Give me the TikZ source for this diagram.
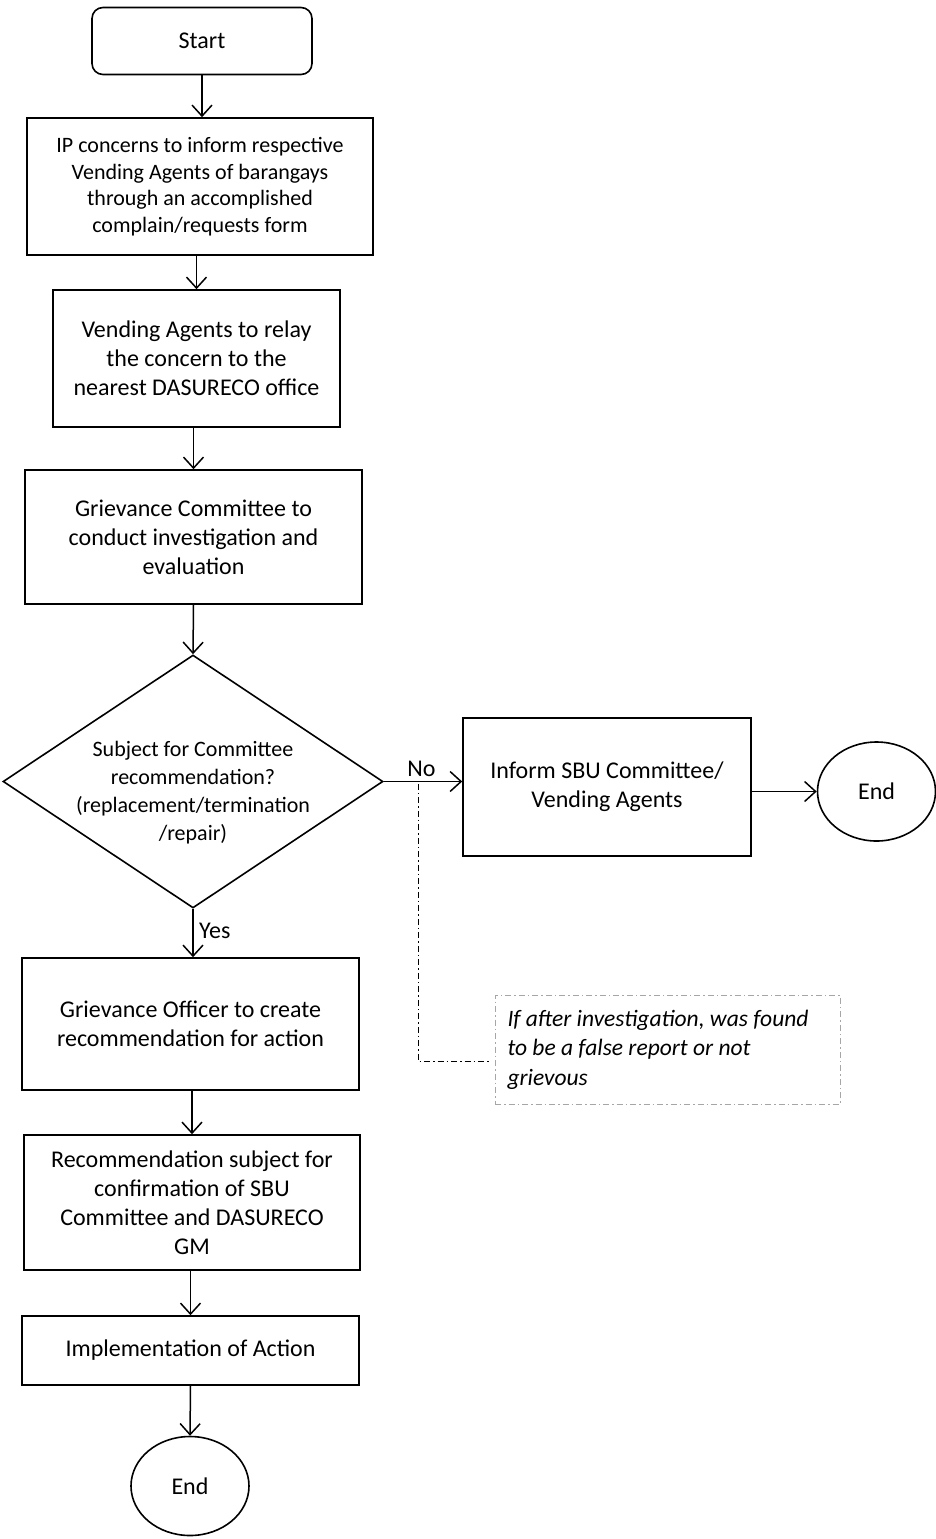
\documentclass[tikz,border=0pt]{standalone}
\usepackage{fontspec}
\setmainfont{Carlito}
\usetikzlibrary{shapes.geometric,arrows.meta,positioning}

\tikzset{
  stepbox/.style={draw, line width=1.6pt, align=center, inner sep=0pt},
  termbox/.style={draw, line width=1.6pt, rounded corners=11pt, minimum width=220pt, minimum height=67pt},
  endnode/.style={draw, ellipse, line width=1.6pt, minimum width=118pt, minimum height=99pt, inner sep=0pt},
  flow/.style={line width=1.5pt, -{Straight Barb[length=11pt,width=20pt,line width=1.5pt]}},
}

\begin{document}
\begin{tikzpicture}[x=1pt,y=1pt,yscale=-1,font=\fontsize{24}{29}\selectfont]
\useasboundingbox (0,0) rectangle (936,1539);

% Start
\node[termbox] (start) at (202,41) {Start};

% Shape: steps on the left
\node[stepbox, minimum width=346pt, minimum height=137pt, font=\fontsize{22}{26.5}\selectfont] (inform) at (200,186.5)
  {IP concerns to inform respective\\Vending Agents of barangays\\through an accomplished\\complain/requests form};
\node[stepbox, minimum width=287pt, minimum height=137pt] (relay) at (196.5,358.5)
  {Vending Agents to relay\\the concern to the\\nearest DASURECO office};
\node[stepbox, minimum width=337pt, minimum height=134pt] (investigate) at (193.5,537)
  {Grievance Committee to\\conduct investigation and\\evaluation};

% Shape: Diamond
\node[draw, diamond, line width=1.6pt, minimum width=380pt, minimum height=253pt, inner sep=0pt,
  label={[align=center, font=\fontsize{22}{28}\selectfont, yshift=-11pt]center:Subject for Committee\\recommendation?\\(replacement/termination\\/repair)}] (check) at (193,781.5) {};

\node[stepbox, minimum width=337pt, minimum height=132pt] (create) at (190.5,1024)
  {Grievance Officer to create\\recommendation for action};
\node[stepbox, minimum width=336pt, minimum height=135pt] (confirm) at (192,1202.5)
  {Recommendation subject for\\confirmation of SBU\\Committee and DASURECO\\GM};
\node[stepbox, minimum width=337pt, minimum height=69pt] (implement) at (190.5,1350.5)
  {Implementation of Action};
\node[endnode] (finish) at (190,1486) {End};

% Shape: right branch
\node[stepbox, minimum width=288pt, minimum height=138pt] (sbu) at (607,787)
  {Inform SBU Committee/\\Vending Agents};
\node[endnode] (finishR) at (876.5,791.5) {End};

% Text Node: note
\node[draw=gray!70, line width=1pt, dash pattern=on 6pt off 3pt on 1.5pt off 3pt,
  minimum width=345pt, minimum height=109pt, text width=320pt, align=flush left, inner sep=0pt,
  font=\fontsize{23.5}{29.5}\selectfont\itshape] (note) at (667.5,1049.5)
  {If after investigation, was found\\to be a false report or not\\grievous};

% Straight Lines
\draw[flow] (start.south) -- (start.south |- inform.north);
\draw[flow] (inform.south -| relay.north) -- (relay.north);
\draw[flow] (relay.south -| investigate.north) -- (investigate.north);
\draw[flow] (investigate.south) -- (check.north);
\draw[flow] (check.south) -- (check.south |- create.north) node[pos=0.45, right=2pt] {Yes};
\draw[flow] (create.south -| confirm.north) -- (confirm.north);
\draw[flow] (confirm.south -| implement.north) -- (implement.north);
\draw[flow] (implement.south) -- (finish.north);
\draw[flow] (check.east) -- (check.east -| sbu.west) node[pos=0.48, above=1pt] {No};
\draw[flow] (sbu.east |- finishR.west) -- (finishR.west);

% dash dot line to note
\path (check.east) -- (sbu.west) coordinate[pos=0.44] (split);
\draw[line width=1pt, dash pattern=on 6pt off 3pt on 1.5pt off 3pt] (split) |- ([yshift=12pt,xshift=-6pt]note.west);

\end{tikzpicture}
\end{document}
